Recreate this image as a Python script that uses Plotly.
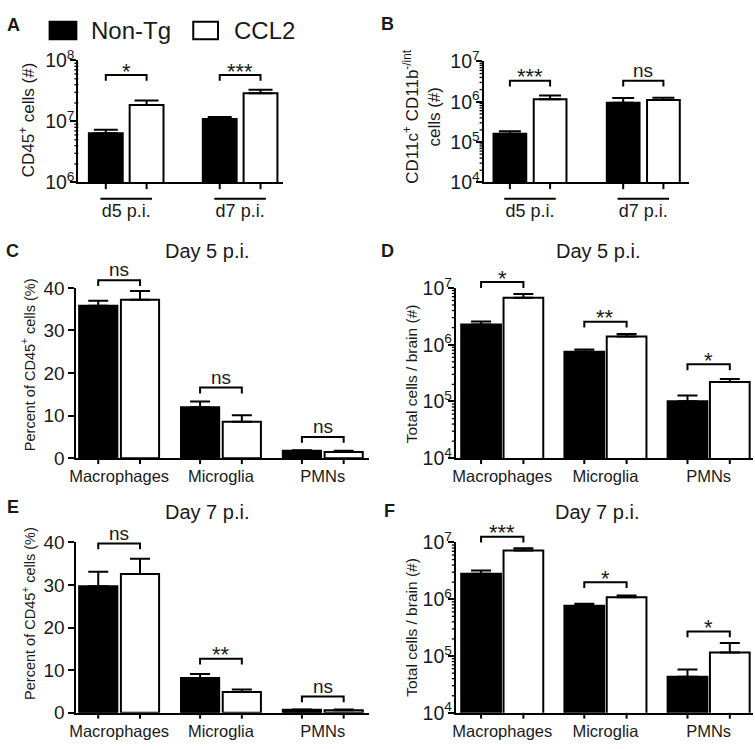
import math
import plotly.graph_objects as go

W, H = 755, 749
FONT = "Liberation Sans, Arial, sans-serif"
TXT = "#1a1a1a"

# ---------------- data ----------------
days = ["d5 p.i.", "d7 p.i."]
cells = ["Macrophages", "Microglia", "PMNs"]
series_names = ["Non-Tg", "CCL2"]

A_nontg = [6.4e6, 1.10e7]
A_nontg_sem = [0.9e6, 0.8e6]
A_ccl2 = [1.86e7, 2.9e7]
A_ccl2_sem = [3.5e6, 4.2e6]
A_sig = ["*", "***"]

B_nontg = [1.6e5, 9.5e5]
B_nontg_sem = [0.25e5, 2.8e5]
B_ccl2 = [1.15e6, 1.10e6]
B_ccl2_sem = [0.28e6, 0.15e6]
B_sig = ["***", "ns"]

C_nontg = [35.8, 12.0, 1.75]
C_nontg_sem = [1.2, 1.3, 0.15]
C_ccl2 = [37.2, 8.6, 1.45]
C_ccl2_sem = [2.1, 1.5, 0.3]
C_sig = ["ns", "ns", "ns"]

D_nontg = [2.27e6, 7.5e5, 1.01e5]
D_nontg_sem = [0.28e6, 0.7e5, 0.27e5]
D_ccl2 = [6.7e6, 1.4e6, 2.2e5]
D_ccl2_sem = [1.1e6, 0.15e6, 0.3e5]
D_sig = ["*", "**", "*"]

E_nontg = [29.7, 8.2, 0.7]
E_nontg_sem = [3.4, 0.9, 0.1]
E_ccl2 = [32.6, 4.9, 0.6]
E_ccl2_sem = [3.6, 0.6, 0.2]
E_sig = ["ns", "**", "ns"]

F_nontg = [2.8e6, 7.7e5, 4.3e4]
F_nontg_sem = [0.4e6, 0.6e5, 1.5e4]
F_ccl2 = [7.2e6, 1.08e6, 1.15e5]
F_ccl2_sem = [0.7e6, 0.09e6, 0.55e5]
F_sig = ["***", "*", "*"]

pct_ticks = [0, 10, 20, 30, 40]

# ---------------- layout helpers ----------------
def xp(p):
    return p / W


def yp(p):
    return 1 - p / H


panels = [
    dict(letter="A", cats=days, non=A_nontg, non_e=A_nontg_sem, ccl=A_ccl2, ccl_e=A_ccl2_sem,
         sig=A_sig, log=True, yr=(6, 8), dom=(72, 279, 49, 175), xr=(-0.42, 1.38), s=0.358, w=0.297,
         cap=12, brk=[64, 64], tl=7, xfs=18, standoff=11, underline=True, title=None,
         ytitle="CD45<sup>+</sup> cells (#)", ytpos=(21, 110), yts=17, lpos=(7, 12)),
    dict(letter="B", cats=days, non=B_nontg, non_e=B_nontg_sem, ccl=B_ccl2, ccl_e=B_ccl2_sem,
         sig=B_sig, log=True, yr=(4, 7), dom=(481, 688, 50, 175), xr=(-0.41, 1.40), s=0.355, w=0.289,
         cap=11, brk=[70, 70], tl=7, xfs=18, standoff=11, underline=True, title=None,
         ytitle="CD11c<sup>+</sup> CD11b<sup>-/int</sup><br>cells (#)", ytpos=(418, 107), yts=17,
         lpos=(384, 11)),
    dict(letter="C", cats=cells, non=C_nontg, non_e=C_nontg_sem, ccl=C_ccl2, ccl_e=C_ccl2_sem,
         sig=C_sig, log=False, yr=(0, 40), dom=(70, 365, 284, 460), xr=(-0.42, 2.45), s=0.41, w=0.375,
         cap=10, brk=[276, 387, 438], tl=6, xfs=16.5, standoff=2, underline=False,
         title=("Day 5 p.i.", 202, 246),
         ytitle="Percent of CD45<sup>+</sup> cells (%)", ytpos=(22, 363), yts=14.5, lpos=(6, 246)),
    dict(letter="D", cats=cells, non=D_nontg, non_e=D_nontg_sem, ccl=D_ccl2, ccl_e=D_ccl2_sem,
         sig=D_sig, log=True, yr=(4, 7), dom=(453, 753, 284, 460), xr=(-0.45, 2.43), s=0.41, w=0.385,
         cap=10, brk=[278, 319, 363], tl=6, xfs=16.5, standoff=2, underline=False,
         title=("Day 5 p.i.", 597, 246),
         ytitle="Total cells / brain (#)", ytpos=(408, 373), yts=15.5, lpos=(384, 246)),
    dict(letter="E", cats=cells, non=E_nontg, non_e=E_nontg_sem, ccl=E_ccl2, ccl_e=E_ccl2_sem,
         sig=E_sig, log=False, yr=(0, 40), dom=(70, 365, 547, 723), xr=(-0.42, 2.45), s=0.41, w=0.375,
         cap=10, brk=[548, 667, 706], tl=6, xfs=16.5, standoff=2, underline=False,
         title=("Day 7 p.i.", 202, 516),
         ytitle="Percent of CD45<sup>+</sup> cells (%)", ytpos=(22, 620), yts=14.5, lpos=(6, 510)),
    dict(letter="F", cats=cells, non=F_nontg, non_e=F_nontg_sem, ccl=F_ccl2, ccl_e=F_ccl2_sem,
         sig=F_sig, log=True, yr=(4, 7), dom=(453, 753, 547, 723), xr=(-0.45, 2.43), s=0.41, w=0.385,
         cap=10, brk=[541, 588, 639], tl=6, xfs=16.5, standoff=2, underline=False,
         title=("Day 7 p.i.", 596, 516),
         ytitle="Total cells / brain (#)", ytpos=(408, 635), yts=15.5, lpos=(386, 514)),
]

fig = go.Figure()
layout = dict(
    width=W, height=H, margin=dict(l=0, r=0, t=0, b=0),
    paper_bgcolor="white", plot_bgcolor="white", showlegend=False,
    font=dict(family=FONT, color=TXT),
)
shapes = []
annotations = []


def line(xa, ya, xb, yb, w=2):
    shapes.append(dict(type="line", xref="paper", yref="paper",
                       x0=xp(xa), y0=yp(ya), x1=xp(xb), y1=yp(yb),
                       line=dict(color="black", width=w)))


def text(t, x, y, size, xanchor="center", yanchor="middle", angle=0, bold=False):
    if bold:
        t = "<b>" + t + "</b>"
    annotations.append(dict(text=t, x=xp(x), y=yp(y), xref="paper", yref="paper",
                            xanchor=xanchor, yanchor=yanchor, showarrow=False,
                            textangle=angle, font=dict(size=size, family=FONT, color=TXT)))


for idx, P in enumerate(panels):
    n = "" if idx == 0 else str(idx + 1)
    xa, ya = "x" + n, "y" + n
    x0, x1, y0, y1 = P["dom"]
    r0, r1 = P["xr"]
    s, w = P["s"], P["w"]
    cats = P["cats"]

    def cpx(v):
        return x0 + (v - r0) / (r1 - r0) * (x1 - x0)

    layout["xaxis" + n] = dict(
        domain=[xp(x0), xp(x1)], range=list(P["xr"]), type="category",
        categoryorder="array", categoryarray=cats, anchor=ya,
        showline=True, linecolor="black", linewidth=2, ticks="", showgrid=False,
        zeroline=False, tickfont=dict(size=P["xfs"], family=FONT, color=TXT),
        ticklabelstandoff=P["standoff"], fixedrange=True)
    yax = dict(domain=[yp(y1), yp(y0)], anchor=xa, showline=True, linecolor="black",
               linewidth=2, ticks="outside", ticklen=6, tickwidth=2, tickcolor="black",
               showgrid=False, zeroline=False, fixedrange=True)
    if P["log"]:
        lo, hi = P["yr"]
        yax.update(type="log", range=[lo, hi],
                   tickmode="array", tickvals=[10 ** k for k in range(lo, hi + 1)],
                   ticktext=["10<sup>%d</sup>" % k for k in range(lo, hi + 1)],
                   tickfont=dict(size=19.5, family=FONT, color=TXT),
                   ticklabelstandoff=-8)
        # minor log ticks (2..9 within each decade)
        for k in range(lo, hi):
            for m in range(2, 10):
                ty = y1 - (math.log10(m * 10 ** k) - lo) / (hi - lo) * (y1 - y0)
                line(x0 - 4, ty, x0, ty, w=1.3)
    else:
        yax.update(type="linear", range=list(P["yr"]), tickmode="array",
                   tickvals=pct_ticks, ticktext=[str(v) for v in pct_ticks],
                   tickfont=dict(size=19, family=FONT, color=TXT))
    layout["yaxis" + n] = yax

    for j, (vals, sem, color) in enumerate([(P["non"], P["non_e"], "black"),
                                            (P["ccl"], P["ccl_e"], "white")]):
        sgn = -1 if j == 0 else 1
        fig.add_trace(go.Bar(
            x=cats, y=vals, xaxis=xa, yaxis=ya, name=series_names[j],
            width=w, offset=sgn * s / 2 - w / 2,
            marker=dict(color=color, line=dict(color="black", width=2)),
            error_y=dict(type="data", symmetric=False, array=sem,
                         arrayminus=[0] * len(sem), color="black",
                         thickness=2, width=P["cap"]),
            showlegend=False, hoverinfo="skip"))

    for i, cat in enumerate(cats):
        cl = cpx(i - s / 2)
        cr = cpx(i + s / 2)
        # ticks under each bar
        line(cl, y1, cl, y1 + P["tl"])
        line(cr, y1, cr, y1 + P["tl"])
        # significance bracket
        b = P["brk"][i]
        shapes.append(dict(type="path", xref="paper", yref="paper",
                           path="M %f,%f L %f,%f L %f,%f L %f,%f" % (
                               xp(cl), yp(b + 6), xp(cl), yp(b), xp(cr), yp(b), xp(cr), yp(b + 6)),
                           line=dict(color="black", width=2)))
        lab = P["sig"][i]
        gc = b - 9
        if "*" in lab:
            text(lab, (cl + cr) / 2, gc + 5, 22)
        else:
            text(lab, (cl + cr) / 2, gc - 1.5, 19)
        if P["underline"]:
            gm = cpx(i)
            line(gm - 26, 192, gm + 26, 192)

    text(P["letter"], P["lpos"][0], P["lpos"][1], 18, xanchor="center", bold=True)
    if P["title"]:
        t, tx, ty = P["title"]
        text(t, tx, ty, 20)
    text(P["ytitle"], P["ytpos"][0], P["ytpos"][1], P["yts"], angle=-90)

# legend
shapes.append(dict(type="rect", xref="paper", yref="paper", x0=xp(43), x1=xp(70), y0=yp(27), y1=yp(9),
                   fillcolor="black", line=dict(color="black", width=2)))
shapes.append(dict(type="rect", xref="paper", yref="paper", x0=xp(188), x1=xp(213), y0=yp(27), y1=yp(9),
                   fillcolor="white", line=dict(color="black", width=2)))
text(series_names[0], 83, 18, 24, xanchor="left")
text(series_names[1], 227, 18, 24, xanchor="left")

layout["shapes"] = shapes
layout["annotations"] = annotations
fig.update_layout(**layout)
fig.write_html("out.html", config={"displayModeBar": False},
               post_script="document.body.style.margin='0';document.body.style.overflow='hidden';")
